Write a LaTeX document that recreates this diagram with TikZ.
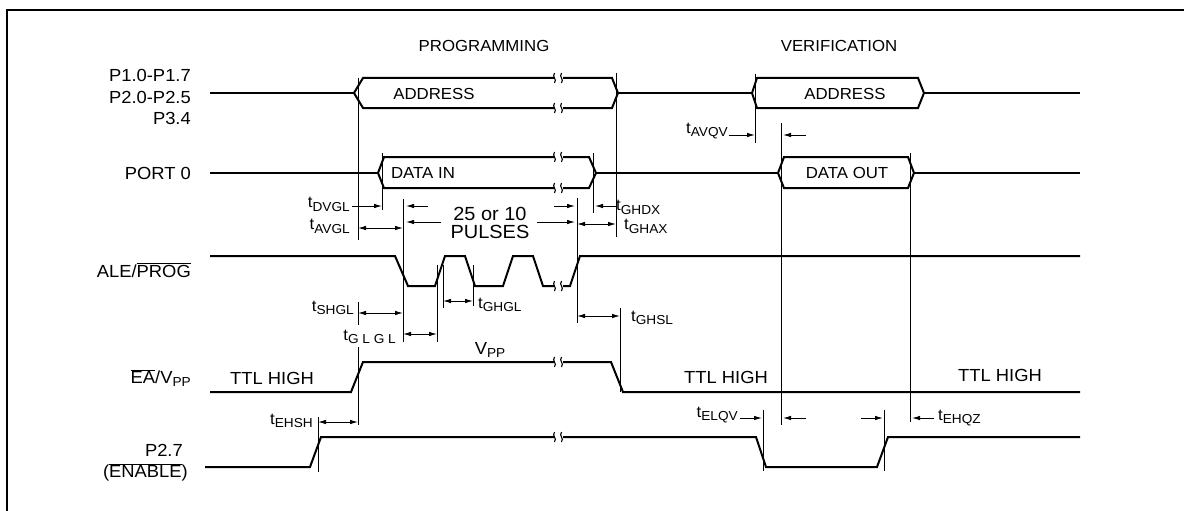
\documentclass[tikz,border=0pt]{standalone}
\usepackage{fontspec}
\setmainfont{Liberation Sans}[FakeStretch=1.05]
\usetikzlibrary{arrows.meta}
\newcommand{\tname}[1]{t\raisebox{-3.5pt}{\fontsize{13}{13}\selectfont #1}}
\newcommand{\vpp}{V\raisebox{-3.5pt}{\fontsize{13}{13}\selectfont PP}}
\newcommand{\lblsize}{\fontsize{16}{18}\selectfont}
\newcommand{\sigsize}{\fontsize{17.5}{20}\selectfont}
\newcommand{\bigsize}{\fontsize{19}{21}\selectfont}
\newcommand{\brkat}[2] {%
        \node[brk] (#1) at (558,#2) {};
        \draw[brkline] (554.5,#2-5) .. controls (551.5,#2-1) and (557.5,#2+1) .. (554.5,#2+5);
        \draw[brkline] (561.5,#2-5) .. controls (558.5,#2-1) and (564.5,#2+1) .. (561.5,#2+5);}

\begin{document}
\begin{tikzpicture}[x=1pt,y=-1pt,
        >={Latex[length=8pt,width=4.5pt]},
        sig/.style={line width=2pt},
        refline/.style={line width=0.9pt},
        dim/.style={line width=0.9pt},
        lbl/.style={inner sep=0pt,font=\lblsize},
        signame/.style={inner sep=0pt,font=\sigsize,anchor=east},
        brk/.style={fill=white,inner sep=0pt,minimum width=9pt,minimum height=4pt},
        brkline/.style={line width=1.1pt}]
        \useasboundingbox (0,0) rectangle (1184,511);
        \draw[line width=1.5pt] (7,511) -- (7,10) -- (1184,10);
        %phase titles
        \node[lbl] (prog) at (484,46)     {PROGRAMMING};
        \node[lbl] (verif) at (839,46)    {VERIFICATION};
        %signal names
        \node[signame] (p1) at (191,75)      {P1.0-P1.7};
        \node[signame] (p2) at (191,97)      {P2.0-P2.5};
        \node[signame] (p3) at (191,118)     {P3.4};
        \node[signame] (port) at (191,173)   {PORT 0};
        \node[signame] (ale) at (191,270)    {ALE/$\overline{\mbox{PROG}}$};
        \node[signame] (ea) at (191,378)     {$\overline{\mbox{EA}}$/\vpp};
        \node[signame] (p27) at (183,450)    {P2.7};
        \node[signame] (enable) at (188,472) {($\overline{\mbox{ENABLE}}$)};
        %address bus
        \draw[sig] (210,93) -- (354,93);
        \draw[sig] (354,93) -- (363,78) -- (612,78) -- (618,93) -- (612,108) -- (363,108) -- cycle;
        \draw[sig] (618,93) -- (752,93);
        \draw[sig] (752,93) -- (757,78) -- (918,78) -- (924,93) -- (918,108) -- (757,108) -- cycle;
        \draw[sig] (924,93) -- (1080,93);
        \node[lbl] (addr_1) at (434,94)   {ADDRESS};
        \node[lbl] (addr_2) at (845,94)   {ADDRESS};
        %port 0
        \draw[sig] (210,173) -- (378,173);
        \draw[sig] (378,173) -- (384,157) -- (589,157) -- (596,173) -- (589,188) -- (384,188) -- cycle;
        \draw[sig] (596,173) -- (778,173);
        \draw[sig] (778,173) -- (784,157) -- (908,157) -- (914,173) -- (908,188) -- (784,188) -- cycle;
        \draw[sig] (914,173) -- (1080,173);
        \node[lbl] (din) at (423,173)     {DATA IN};
        \node[lbl] (dout) at (847,173)    {DATA OUT};
        %ale/prog pulses
        \draw[sig] (210,256) -- (395,256) -- (408,286) -- (435,286) -- (445,256) -- (465,256) -- (475,286)
                -- (503,286) -- (513,256) -- (533,256) -- (543,286) -- (570,286) -- (580,256) -- (1080,256);
        \node[lbl,font=\bigsize] (n25) at (490,214)   {25 or 10};
        \node[lbl,font=\bigsize] (puls) at (490,232)  {PULSES};
        %ea/vpp
        \draw[sig] (210,392) -- (351,392) -- (363,362) -- (611,362) -- (623,392) -- (1080,392);
        \node[lbl,font=\sigsize] (vpp) at (490,350)     {\vpp};
        \node[lbl,font=\sigsize] (ttl_1) at (272,378)   {TTL HIGH};
        \node[lbl,font=\sigsize] (ttl_2) at (726,377)   {TTL HIGH};
        \node[lbl,font=\sigsize] (ttl_3) at (1000,375)  {TTL HIGH};
        %p2.7 enable
        \draw[sig] (205,467) -- (310,467) -- (321,437) -- (756,437) -- (766,467) -- (877,467) -- (888,437) -- (1080,437);
        %breaks
        \brkat{brk_1}{78}
        \brkat{brk_2}{108}
        \brkat{brk_3}{157}
        \brkat{brk_4}{188}
        \brkat{brk_5}{286}
        \brkat{brk_6}{362}
        \brkat{brk_7}{437}
        %reference lines
        \draw[refline] (358,78) -- (358,240);
        \draw[refline] (382,153) -- (382,210);
        \draw[refline] (403,199) -- (403,342);
        \draw[refline] (437,265) -- (437,342);
        \draw[refline] (443,265) -- (443,308);
        \draw[refline] (473,265) -- (473,306);
        \draw[refline] (577,198) -- (577,323);
        \draw[refline] (593,153) -- (593,213);
        \draw[refline] (616,73) -- (616,237);
        \draw[refline] (620,308) -- (620,392);
        \draw[refline] (358,302) -- (358,325);
        \draw[refline] (358,347) -- (358,425);
        \draw[refline] (318,417) -- (318,472);
        \draw[refline] (755,74) -- (755,143);
        \draw[refline] (781,123) -- (781,425);
        \draw[refline] (910,153) -- (910,422);
        \draw[refline] (763,410) -- (763,471);
        \draw[refline] (884,410) -- (884,471);
        %programming timings
        \node[lbl,anchor=east] (tdvgl) at (350,204.5)   {\tname{DVGL}};
        \node[lbl,anchor=east] (tavgl) at (350,226.5)   {\tname{AVGL}};
        \node[lbl,anchor=west] (tghdx) at (616,207.5)   {\tname{GHDX}};
        \node[lbl,anchor=west] (tghax) at (624,226.5)   {\tname{GHAX}};
        \node[lbl,anchor=east] (tshgl) at (354,308)     {\tname{SHGL}};
        \node[lbl,anchor=east] (tglgl) at (396,337)     {\tname{G L G L}};
        \node[lbl,anchor=west] (tghgl) at (478,305)     {\tname{GHGL}};
        \node[lbl,anchor=west] (tghsl) at (631,318)     {\tname{GHSL}};
        \node[lbl,anchor=east] (tehsh) at (313,421)     {\tname{EHSH}};
        \coordinate (dvgl_a) at (352,206);
        \coordinate (dvgl_b) at (382,206);
        \coordinate (avgl_a) at (358,228);
        \coordinate (avgl_b) at (403,228);
        \coordinate (pl_1a) at (428,206);
        \coordinate (pl_1b) at (406,206);
        \coordinate (pl_2a) at (441,222);
        \coordinate (pl_2b) at (406,222);
        \coordinate (pr_1a) at (554,206);
        \coordinate (pr_1b) at (575,206);
        \coordinate (pr_2a) at (537,222);
        \coordinate (pr_2b) at (575,222);
        \coordinate (ghdx_a) at (616,206);
        \coordinate (ghdx_b) at (595,206);
        \coordinate (ghax_a) at (577,224);
        \coordinate (ghax_b) at (616,224);
        \coordinate (shgl_a) at (358,313);
        \coordinate (shgl_b) at (403,313);
        \coordinate (glgl_a) at (403,334);
        \coordinate (glgl_b) at (437,334);
        \coordinate (ghgl_a) at (443,301);
        \coordinate (ghgl_b) at (473,301);
        \coordinate (ghsl_a) at (577,316);
        \coordinate (ghsl_b) at (620,316);
        \coordinate (ehsh_a) at (318,422);
        \coordinate (ehsh_b) at (358,422);
        \path[->, dim] (dvgl_a) edge (dvgl_b);
        \path[<->, dim] (avgl_a) edge (avgl_b);
        \path[->, dim] (pl_1a) edge (pl_1b);
        \path[->, dim] (pl_2a) edge (pl_2b);
        \path[->, dim] (pr_1a) edge (pr_1b);
        \path[->, dim] (pr_2a) edge (pr_2b);
        \path[->, dim] (ghdx_a) edge (ghdx_b);
        \path[<->, dim] (ghax_a) edge (ghax_b);
        \path[<->, dim] (shgl_a) edge (shgl_b);
        \path[<->, dim] (glgl_a) edge (glgl_b);
        \path[<->, dim] (ghgl_a) edge (ghgl_b);
        \path[<->, dim] (ghsl_a) edge (ghsl_b);
        \path[<->, dim] (ehsh_a) edge (ehsh_b);
        %verification timings
        \node[lbl,anchor=east] (tavqv) at (728,131)   {\tname{AVQV}};
        \node[lbl,anchor=east] (telqv) at (738,415)   {\tname{ELQV}};
        \node[lbl,anchor=west] (tehqz) at (938,418)   {\tname{EHQZ}};
        \coordinate (avqv_a) at (729,135);
        \coordinate (avqv_b) at (755,135);
        \coordinate (avqv_c) at (806,135);
        \coordinate (avqv_d) at (783,135);
        \coordinate (elqv_a) at (740,418);
        \coordinate (elqv_b) at (762,418);
        \coordinate (elqv_c) at (806,418);
        \coordinate (elqv_d) at (783,418);
        \coordinate (ehqz_a) at (861,418);
        \coordinate (ehqz_b) at (883,418);
        \coordinate (ehqz_c) at (934,418);
        \coordinate (ehqz_d) at (912,418);
        \path[->, dim] (avqv_a) edge (avqv_b);
        \path[->, dim] (avqv_c) edge (avqv_d);
        \path[->, dim] (elqv_a) edge (elqv_b);
        \path[->, dim] (elqv_c) edge (elqv_d);
        \path[->, dim] (ehqz_a) edge (ehqz_b);
        \path[->, dim] (ehqz_c) edge (ehqz_d);
    \end{tikzpicture}
\end{document}
